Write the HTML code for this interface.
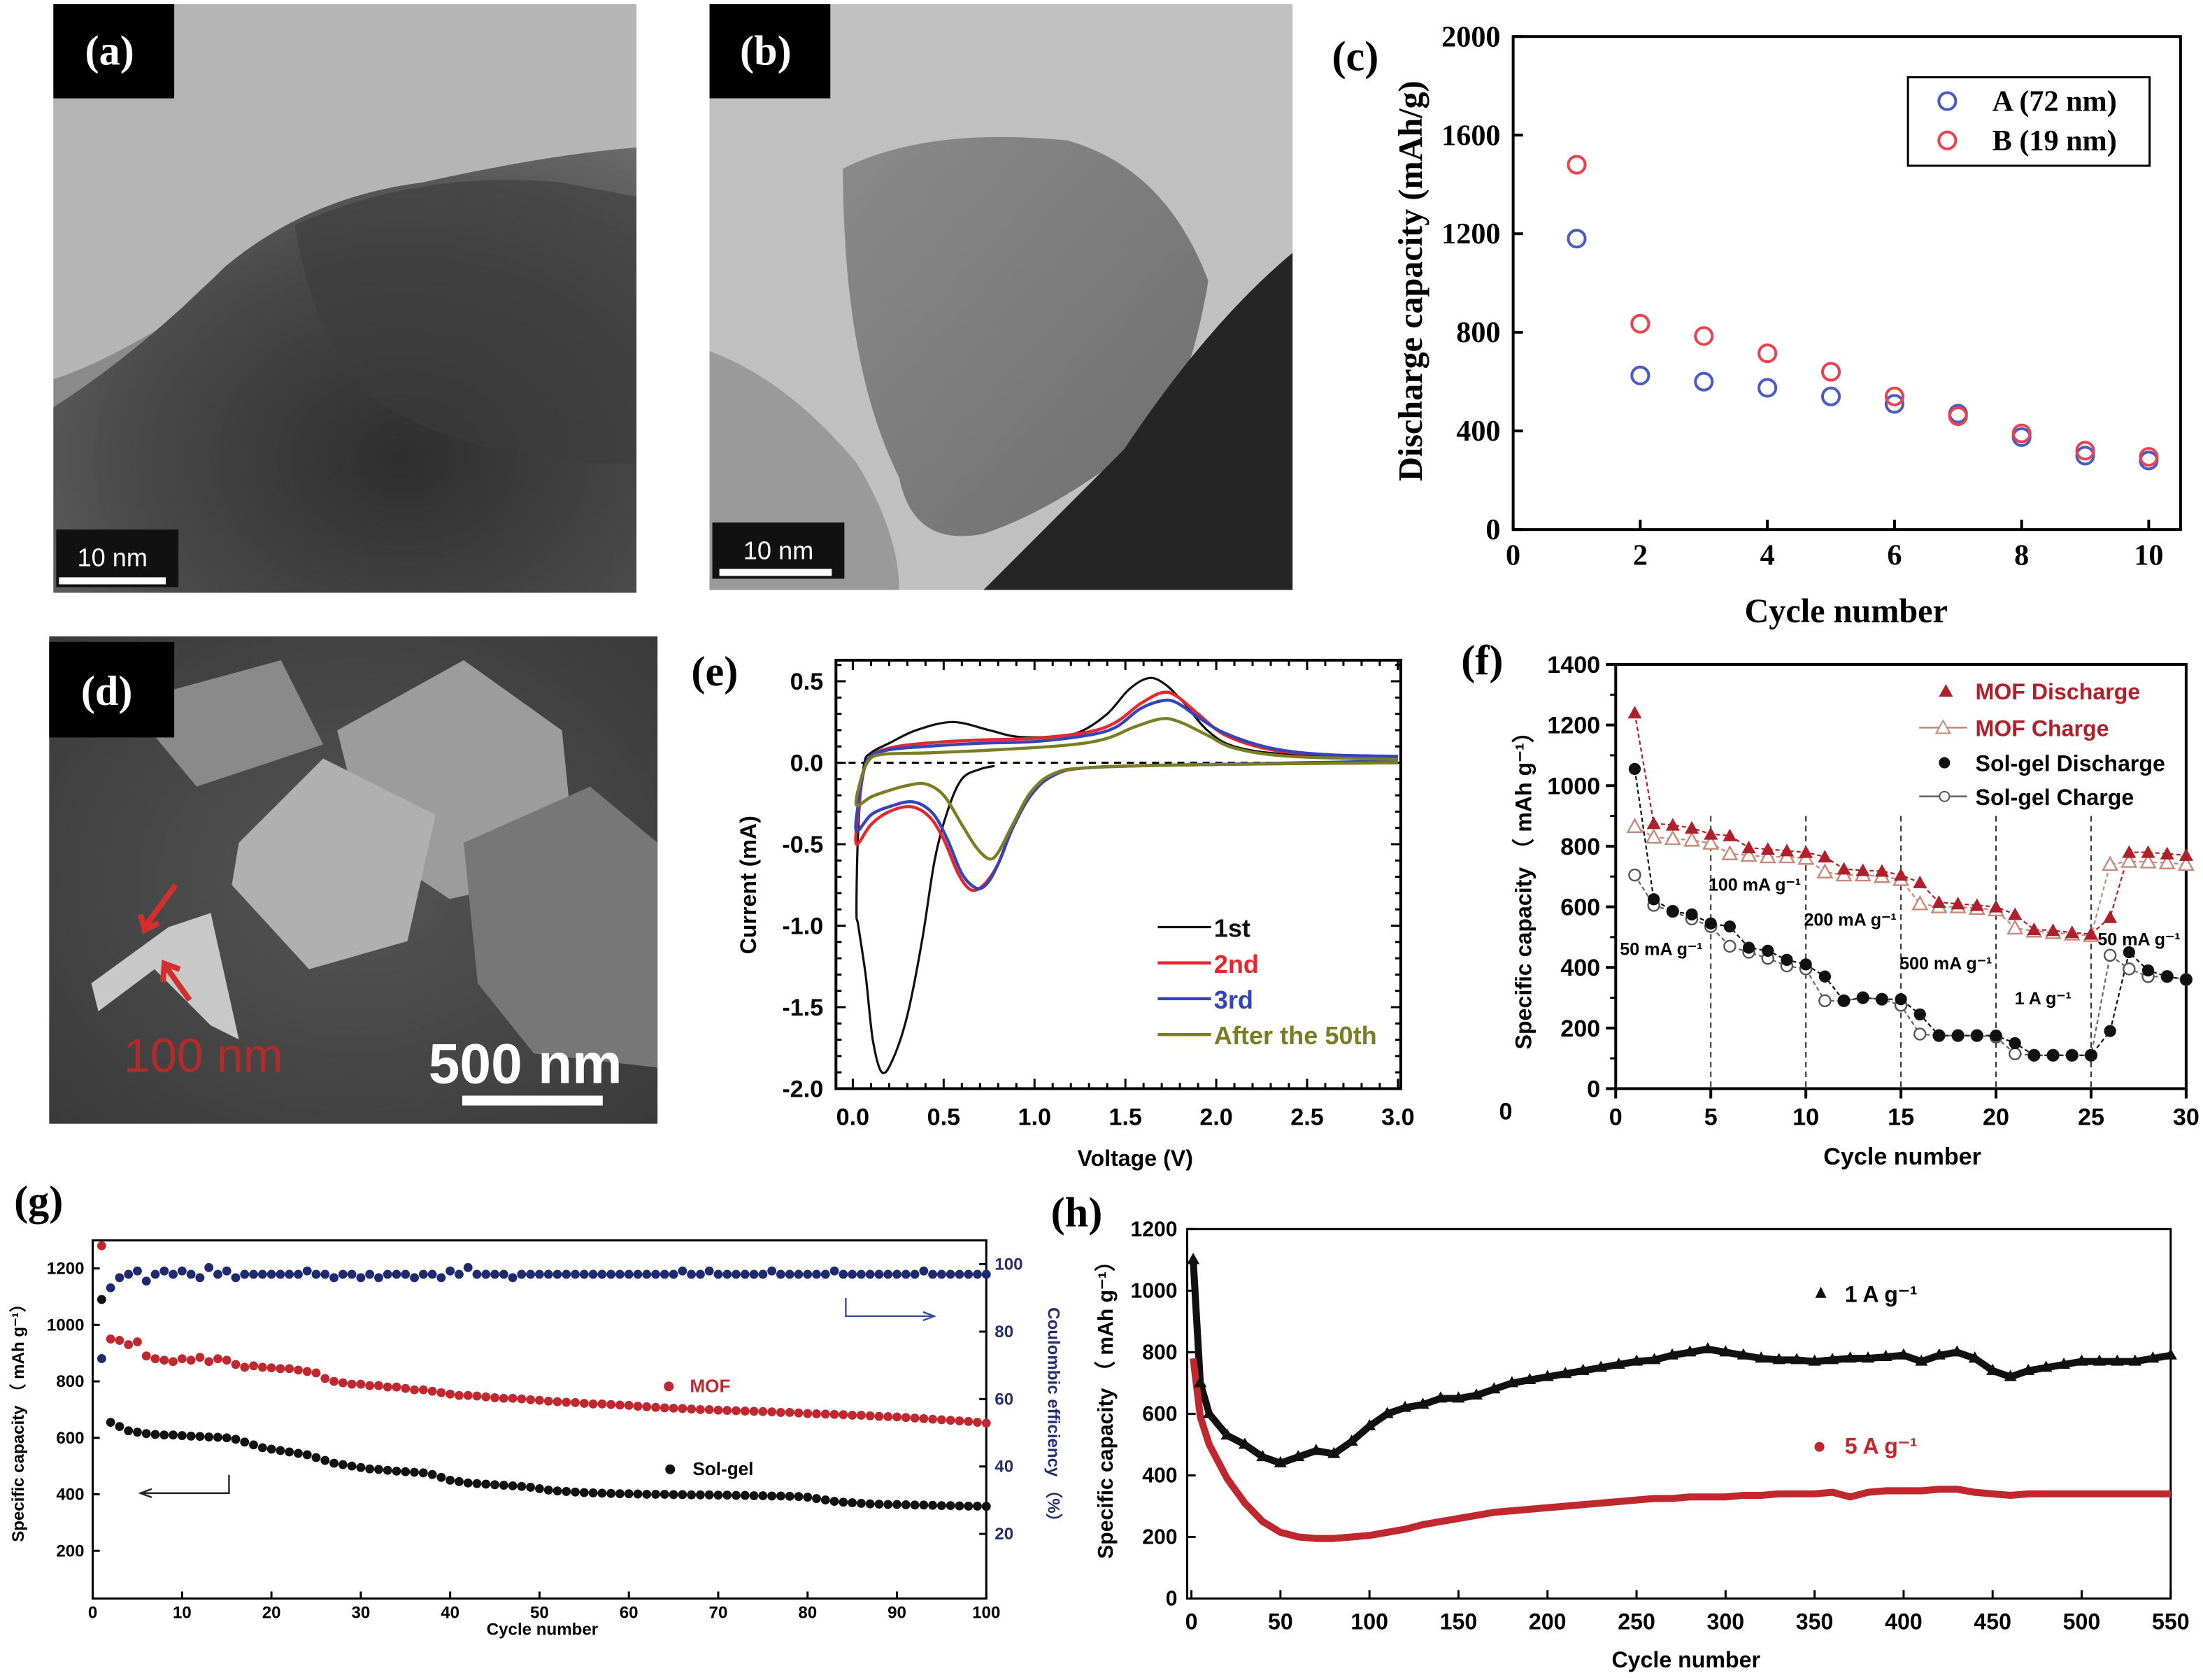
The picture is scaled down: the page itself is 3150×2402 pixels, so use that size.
<!DOCTYPE html>
<html><head><meta charset="utf-8"><style>
html,body{margin:0;padding:0;background:#fff;}
svg{display:block;}
</style></head><body>
<svg id="fig" width="3150" height="2402" viewBox="0 0 1568 1196" preserveAspectRatio="none" xmlns="http://www.w3.org/2000/svg">
<defs>
<radialGradient id="ga" cx="0.6" cy="0.7" r="0.8"><stop offset="0" stop-color="#2e2e2e"/><stop offset="0.6" stop-color="#4a4a4a"/><stop offset="1" stop-color="#6a6a6a"/></radialGradient>
<linearGradient id="gb" x1="0" y1="0" x2="1" y2="1"><stop offset="0" stop-color="#8a8a8a"/><stop offset="1" stop-color="#6e6e6e"/></linearGradient>
<radialGradient id="gd" cx="0.5" cy="0.5" r="0.7"><stop offset="0" stop-color="#555"/><stop offset="1" stop-color="#3a3a3a"/></radialGradient>
</defs>

<g>
<rect x="38" y="3" width="415" height="419" fill="#8a8a8a"/>
<path d="M38 3 H453 V110 Q330 120 260 140 Q170 170 120 230 Q70 260 38 270 Z" fill="#b5b5b5"/>
<path d="M38 290 Q100 250 160 190 Q220 140 300 130 Q390 110 453 105 V422 H38 Z" fill="url(#ga)"/>
<path d="M210 160 Q300 120 400 130 L453 140 V330 Q330 330 260 280 Q220 230 210 160Z" fill="#3c3c3c" opacity="0.6"/>
<rect x="38" y="3" width="86" height="67" fill="#000"/>
<text x="78" y="46" fill="#fff" font-size="30" font-family="Liberation Serif, serif" font-weight="bold" text-anchor="middle">(a)</text>
<rect x="40" y="377" width="87" height="41" fill="#111"/>
<text x="80" y="403" fill="#fff" font-size="18" font-family="Liberation Sans, sans-serif" text-anchor="middle">10 nm</text>
<rect x="42" y="411" width="76" height="5" fill="#fff"/>
</g>

<g>
<rect x="505" y="3" width="415" height="417" fill="#c0c0c0"/>
<path d="M505 250 Q560 270 610 330 Q640 380 640 420 H505Z" fill="#9a9a9a"/>
<path d="M600 120 Q660 90 760 100 Q830 120 860 200 Q850 260 830 300 Q760 360 700 380 Q650 390 640 340 Q600 260 600 120Z" fill="url(#gb)"/>
<path d="M920 180 Q860 230 800 320 Q740 380 700 420 H920Z" fill="#252525"/>
<rect x="505" y="3" width="86" height="67" fill="#000"/>
<text x="545" y="46" fill="#fff" font-size="30" font-family="Liberation Serif, serif" font-weight="bold" text-anchor="middle">(b)</text>
<rect x="507" y="372" width="94" height="40" fill="#111"/>
<text x="554" y="398" fill="#fff" font-size="18" font-family="Liberation Sans, sans-serif" text-anchor="middle">10 nm</text>
<rect x="512" y="405" width="80" height="5" fill="#fff"/>
</g>

<g>
<rect x="35" y="453" width="433" height="347" fill="url(#gd)"/>
<path d="M90 500 L200 470 L230 530 L140 560Z" fill="#8a8a8a"/>
<path d="M240 520 L330 470 L400 520 L410 620 L320 640 L260 600Z" fill="#9c9c9c"/>
<path d="M170 600 L230 540 L310 580 L290 670 L220 690 L165 630Z" fill="#b0b0b0"/>
<path d="M330 600 L420 560 L468 600 L468 760 L380 750 L340 700Z" fill="#777"/>
<path d="M65 700 L120 660 L150 650 L170 740 L150 730 L110 690 L70 720Z" fill="#c8c8c8"/>
<rect x="35" y="457" width="89" height="68" fill="#000"/>
<text x="76" y="502" fill="#fff" font-size="30" font-family="Liberation Serif, serif" font-weight="bold" text-anchor="middle">(d)</text>
<text x="88" y="763" fill="#c62828" font-size="34" font-family="Liberation Sans, sans-serif" opacity="0.85">100 nm</text>
<text x="305" y="771" fill="#fff" font-size="40" font-family="Liberation Sans, sans-serif" font-weight="bold">500 nm</text>
<rect x="329" y="780" width="100" height="7" fill="#fff"/>
<path d="M125 630 L103 660 M100 651 L103 662 L113 657" stroke="#d32f2f" stroke-width="4" fill="none"/>
<path d="M135 712 L118 688 M116 699 L117 686 L128 690" stroke="#d32f2f" stroke-width="4" fill="none"/>
</g>

<g id="plots"></g>
</svg>

<script>
const cCycles = [1,2,3,4,5,6,7,8,9,10];
const cA = [1180,625,600,575,540,510,470,375,300,280];
const cB = [1480,835,785,715,640,540,460,390,320,295];
const cXTicks = [0,2,4,6,8,10];
const cYTicks = [0,400,800,1200,1600,2000];

const e1st = [[0.78,-0.02],[0.7,-0.04],[0.6,-0.1],[0.52,-0.3],[0.45,-0.6],[0.38,-1.1],[0.3,-1.55],[0.22,-1.82],[0.16,-1.9],[0.11,-1.7],[0.07,-1.3],[0.03,-1.0],[0.02,-0.9],[0.03,-0.4],[0.06,-0.02],[0.1,0.06],[0.2,0.12],[0.35,0.2],[0.55,0.25],[0.75,0.2],[0.9,0.16],[1.1,0.16],[1.25,0.19],[1.4,0.3],[1.52,0.45],[1.63,0.52],[1.72,0.48],[1.82,0.37],[1.95,0.2],[2.1,0.1],[2.4,0.05],[3.0,0.02]];
const e2nd = [[3.0,0.0],[2.0,-0.01],[1.3,-0.03],[1.1,-0.08],[0.98,-0.2],[0.88,-0.4],[0.8,-0.62],[0.72,-0.75],[0.65,-0.78],[0.58,-0.68],[0.5,-0.47],[0.42,-0.33],[0.32,-0.27],[0.2,-0.3],[0.1,-0.38],[0.02,-0.5],[0.03,-0.3],[0.06,-0.05],[0.1,0.04],[0.2,0.09],[0.4,0.12],[0.7,0.14],[1.0,0.15],[1.3,0.19],[1.45,0.25],[1.58,0.36],[1.7,0.43],[1.78,0.41],[1.9,0.3],[2.05,0.17],[2.3,0.08],[2.6,0.05],[3.0,0.03]];
const e3rd = [[3.0,0.01],[2.0,-0.01],[1.3,-0.03],[1.1,-0.08],[0.98,-0.2],[0.88,-0.4],[0.8,-0.62],[0.74,-0.74],[0.68,-0.77],[0.6,-0.68],[0.52,-0.47],[0.44,-0.31],[0.33,-0.24],[0.2,-0.27],[0.1,-0.32],[0.02,-0.42],[0.03,-0.25],[0.06,-0.05],[0.1,0.04],[0.2,0.08],[0.4,0.1],[0.7,0.12],[1.0,0.13],[1.3,0.17],[1.45,0.22],[1.58,0.33],[1.7,0.38],[1.78,0.37],[1.9,0.28],[2.05,0.18],[2.3,0.09],[2.6,0.05],[3.0,0.04]];
const e50th = [[3.0,0.0],[2.0,-0.01],[1.3,-0.03],[1.1,-0.07],[0.98,-0.18],[0.88,-0.38],[0.8,-0.55],[0.75,-0.59],[0.68,-0.52],[0.6,-0.38],[0.5,-0.2],[0.4,-0.13],[0.3,-0.14],[0.2,-0.17],[0.1,-0.21],[0.02,-0.26],[0.04,-0.12],[0.08,0.0],[0.15,0.05],[0.4,0.06],[0.8,0.08],[1.2,0.11],[1.4,0.15],[1.55,0.22],[1.7,0.27],[1.8,0.25],[1.95,0.17],[2.1,0.09],[2.4,0.04],[3.0,0.02]];
const eXTicks = [0,0.5,1,1.5,2,2.5,3];
const eYTicks = [0.5,0,-0.5,-1,-1.5,-2];

const fCycles = [1,2,3,4,5,6,7,8,9,10,11,12,13,14,15,16,17,18,19,20,21,22,23,24,25,26,27,28,29,30];
const fMofDis = [1240,875,870,860,840,835,795,790,785,780,765,725,720,718,705,680,615,610,605,600,575,525,522,515,510,565,780,780,775,770];
const fMofCh  = [865,830,825,820,810,775,770,765,765,760,715,705,705,700,690,610,600,600,595,590,530,520,515,510,505,740,750,748,745,740];
const fSolDis = [1055,625,585,575,545,535,465,455,425,410,370,290,300,295,295,245,175,175,175,175,150,110,110,110,110,190,450,390,370,360];
const fSolCh  = [705,605,585,560,535,470,450,430,405,395,290,290,300,295,275,180,175,175,175,170,115,110,110,110,110,440,395,370,370,360];
const fXTicks = [0,5,10,15,20,25,30];
const fYTicks = [0,200,400,600,800,1000,1200,1400];
const fDividers = [5,10,15,20,25];

const gMof = [1280,950,945,930,940,890,880,875,870,880,875,885,870,880,875,860,850,855,850,848,845,845,840,835,830,810,800,795,790,790,785,785,780,780,775,770,770,765,760,755,750,750,748,745,742,740,740,738,735,733,730,728,726,725,722,720,720,718,716,715,712,710,708,706,705,704,702,700,700,698,697,696,695,694,693,692,690,690,688,686,685,684,683,682,680,680,678,676,675,674,672,670,668,666,664,662,660,658,655,652];
const gSol = [1090,655,640,625,620,615,612,610,610,608,606,605,603,602,600,595,585,575,565,560,555,550,545,540,530,520,510,505,500,495,490,488,485,482,480,478,476,470,460,450,445,440,438,436,434,432,430,428,425,420,415,412,410,408,406,405,404,403,402,402,401,400,400,400,399,399,398,398,398,397,397,396,396,395,395,394,394,393,392,390,385,380,375,372,370,368,366,365,364,364,363,362,362,361,360,360,359,358,358,357];
const gCE = [72,93,96,97,98,95,97,98,97,98,97,96,99,97,98,96,97,97,97,97,97,97,97,98,97,97,96,97,97,96,97,96,97,97,97,96,97,97,96,98,97,99,97,97,97,97,96,97,97,97,97,97,97,97,97,97,97,97,97,97,97,97,97,97,97,98,97,97,98,97,97,97,97,97,97,98,97,97,97,97,97,97,98,97,97,97,97,97,97,97,97,97,98,97,97,97,97,97,97,97];
const gXTicks = [0,10,20,30,40,50,60,70,80,90,100];
const gYTicks = [200,400,600,800,1000,1200];
const gY2Ticks = [20,40,60,80,100];

const hCycles = [1,5,10,20,30,40,50,60,70,80,90,100,110,120,130,140,150,160,170,180,190,200,210,220,230,240,250,260,270,280,290,300,310,320,330,340,350,360,370,380,390,400,410,420,430,440,450,460,470,480,490,500,510,520,530,540,550];
const h1A = [1100,700,600,530,500,460,440,460,480,470,510,560,600,620,630,650,650,660,680,700,710,720,730,740,750,760,770,775,790,800,810,800,790,780,775,775,770,775,780,780,785,790,770,790,800,780,740,720,740,750,760,770,770,770,770,780,790];
const h5A = [780,590,500,390,310,250,215,200,195,195,200,205,215,225,240,250,260,270,280,285,290,295,300,305,310,315,320,325,325,330,330,330,335,335,340,340,340,345,330,345,350,350,350,355,355,345,340,335,340,340,340,340,340,340,340,340,340];
const hXTicks = [0,50,100,150,200,250,300,350,400,450,500,550];
const hYTicks = [0,200,400,600,800,1000,1200];

const NS = 'http://www.w3.org/2000/svg';
const root = document.getElementById('plots');
function mk(tag, attrs, parent, text){
  const el = document.createElementNS(NS, tag);
  for (const k in attrs) el.setAttribute(k, attrs[k]);
  if (text !== undefined) el.textContent = text;
  (parent || root).appendChild(el);
  return el;
}
function scale(d0,d1,r0,r1){ return v => r0 + (v-d0)*(r1-r0)/(d1-d0); }
function frame(g, x0,y0,x1,y1, sw){ mk('rect',{x:x0,y:y0,width:x1-x0,height:y1-y0,fill:'none',stroke:'#000','stroke-width':sw||2},g); }
function smooth(pts){
  let d = 'M'+pts[0][0].toFixed(1)+' '+pts[0][1].toFixed(1);
  for (let i=0;i<pts.length-1;i++){
    const p0=pts[Math.max(0,i-1)], p1=pts[i], p2=pts[i+1], p3=pts[Math.min(pts.length-1,i+2)];
    const c1x=p1[0]+(p2[0]-p0[0])/6, c1y=p1[1]+(p2[1]-p0[1])/6;
    const c2x=p2[0]-(p3[0]-p1[0])/6, c2y=p2[1]-(p3[1]-p1[1])/6;
    d += ` C${c1x.toFixed(1)} ${c1y.toFixed(1)} ${c2x.toFixed(1)} ${c2y.toFixed(1)} ${p2[0].toFixed(1)} ${p2[1].toFixed(1)}`;
  }
  return d;
}

// ===== panel c =====
(function(){
  const g = mk('g',{});
  
  
  const X = scale(0,10.5,1077,1552), Y = scale(0,2000,377,26);
  frame(g,1077,26,1552,377,2);
  const ser = 'Liberation Serif, serif';
  cXTicks.forEach(t=>{
    mk('line',{x1:X(t),y1:377,x2:X(t),y2:370,stroke:'#000','stroke-width':2},g);
    const tx = mk('text',{x:X(t),y:402,'font-size':21,'font-family':ser,'font-weight':'bold','text-anchor':'middle'},g,String(t));
    
    
  });
  cYTicks.forEach(t=>{
    mk('line',{x1:1077,y1:Y(t),x2:1084,y2:Y(t),stroke:'#000','stroke-width':2},g);
    mk('text',{x:1068,y:Y(t)+7,'font-size':21,'font-family':ser,'font-weight':'bold','text-anchor':'end'},g,String(t));
  });
  const xt = mk('text',{x:1314,y:443,'font-size':24,'font-family':ser,'font-weight':'bold','text-anchor':'middle'},g,'Cycle number');
  
  
  const yt = mk('text',{x:0,y:0,'font-size':24,'font-family':ser,'font-weight':'bold','text-anchor':'middle',transform:'translate(1012,200) rotate(-90)'},g,'Discharge capacity (mAh/g)');
  
  
  const lab = mk('text',{x:948,y:50,'font-size':30,'font-family':ser,'font-weight':'bold'},g,'(c)');
  
  
  cCycles.forEach((c,i)=>{
    const p = mk('circle',{cx:X(c),cy:Y(cA[i]),r:6,fill:'none',stroke:'#4a5bc4','stroke-width':2},g);
    
    
    const q = mk('circle',{cx:X(c),cy:Y(cB[i]),r:6,fill:'none',stroke:'#e8434f','stroke-width':2},g);
    
    
  });
  const lg = mk('g',{},g);
  
  
  mk('rect',{x:1358,y:55,width:172,height:63,fill:'#fff',stroke:'#000','stroke-width':1.5},lg);
  mk('circle',{cx:1386,cy:72,r:6,fill:'none',stroke:'#4a5bc4','stroke-width':2},lg);
  mk('circle',{cx:1386,cy:100,r:6,fill:'none',stroke:'#e8434f','stroke-width':2},lg);
  mk('text',{x:1418,y:79,'font-size':21,'font-family':ser,'font-weight':'bold'},lg,'A (72 nm)');
  mk('text',{x:1418,y:107,'font-size':21,'font-family':ser,'font-weight':'bold'},lg,'B (19 nm)');
})();

// ===== panel e =====
(function(){
  const g = mk('g',{});
  
  
  const X = scale(0,3,607,995), Y = scale(0,-2,543,775);
  const x0=595,x1=997,y0=470,y1=775;
  frame(g,x0,y0,x1,y1,2);
  const san='Liberation Sans, sans-serif';
  for (let v=0; v<=3.0001; v+=0.1){
    const major = Math.abs(v*2-Math.round(v*2))<1e-6;
    mk('line',{x1:X(v),y1:y1,x2:X(v),y2:y1-(major?7:4),stroke:'#000','stroke-width':1.5},g);
    mk('line',{x1:X(v),y1:y0,x2:X(v),y2:y0+(major?7:4),stroke:'#000','stroke-width':1.5},g);
  }
  for (let v=0.6; v>=-2.0001; v-=0.1){
    const major = Math.abs(v*2-Math.round(v*2))<1e-6;
    mk('line',{x1:x0,y1:Y(v),x2:x0+(major?7:4),y2:Y(v),stroke:'#000','stroke-width':1.5},g);
    mk('line',{x1:x1,y1:Y(v),x2:x1-(major?7:4),y2:Y(v),stroke:'#000','stroke-width':1.5},g);
  }
  eXTicks.forEach(t=>mk('text',{x:X(t),y:801,'font-size':17,'font-family':san,'font-weight':'bold','text-anchor':'middle'},g,t.toFixed(1)));
  eYTicks.forEach(t=>mk('text',{x:586,y:Y(t)+6,'font-size':17,'font-family':san,'font-weight':'bold','text-anchor':'end'},g,t.toFixed(1)));
  mk('text',{x:808,y:830,'font-size':16,'font-family':san,'font-weight':'bold','text-anchor':'middle'},g,'Voltage (V)');
  mk('text',{x:0,y:0,'font-size':16,'font-family':san,'font-weight':'bold','text-anchor':'middle',transform:'translate(538,630) rotate(-90)'},g,'Current (mA)');
  mk('text',{x:492,y:488,'font-size':30,'font-family':'Liberation Serif, serif','font-weight':'bold'},g,'(e)');
  mk('line',{x1:x0,y1:Y(0),x2:x1,y2:Y(0),stroke:'#000','stroke-width':1.5,'stroke-dasharray':'5,4'},g);
  const series = [[e1st,'#111',1.6,'1st'],[e2nd,'#e8262e',2.2,'2nd'],[e3rd,'#3345b8',2.2,'3rd'],[e50th,'#7b7d22',2.2,'After the 50th']];
  series.forEach((s,i)=>{
    const pts = s[0].map(p=>[X(p[0]),Y(p[1])]);
    const pl = mk('path',{d:smooth(pts),fill:'none',stroke:s[1],'stroke-width':s[2],'stroke-linejoin':'round'},g);
    
    
    const ly = 660+i*25.5;
    mk('line',{x1:824,y1:ly,x2:862,y2:ly,stroke:s[1],'stroke-width':s[2]},g);
    const lt = mk('text',{x:864,y:ly+7,'font-size':18,'font-family':san,'font-weight':'bold',fill:i===0?'#111':s[1]},g,s[3]);
    
    
  });
})();

// ===== panel f =====
(function(){
  const g = mk('g',{});
  
  
  const X = scale(0,30,1150,1556), Y = scale(0,1400,775,473);
  frame(g,1150,473,1556,775,2);
  const san='Liberation Sans, sans-serif';
  fXTicks.forEach(t=>{
    mk('line',{x1:X(t),y1:775,x2:X(t),y2:782,stroke:'#000','stroke-width':2},g);
    mk('text',{x:X(t),y:801,'font-size':17,'font-family':san,'font-weight':'bold','text-anchor':'middle'},g,String(t));
  });
  fYTicks.forEach(t=>{
    mk('line',{x1:1143,y1:Y(t),x2:1150,y2:Y(t),stroke:'#000','stroke-width':2},g);
    if (t<1400) mk('line',{x1:1146,y1:Y(t+100),x2:1150,y2:Y(t+100),stroke:'#000','stroke-width':1.5},g);
    mk('text',{x:1139,y:Y(t)+6,'font-size':17,'font-family':san,'font-weight':'bold','text-anchor':'end'},g,String(t));
  });
  mk('text',{x:1067,y:797,'font-size':17,'font-family':san,'font-weight':'bold'},g,'0');
  mk('text',{x:1354,y:829,'font-size':17,'font-family':san,'font-weight':'bold','text-anchor':'middle'},g,'Cycle number');
  mk('text',{x:0,y:0,'font-size':16,'font-family':san,'font-weight':'bold','text-anchor':'middle',transform:'translate(1090,630) rotate(-90)'},g,'Specific capacity （ mAh g⁻¹）');
  mk('text',{x:1040,y:480,'font-size':30,'font-family':'Liberation Serif, serif','font-weight':'bold'},g,'(f)');
  fDividers.forEach(d=>mk('line',{x1:X(d),y1:Y(900),x2:X(d),y2:775,stroke:'#333','stroke-width':1,'stroke-dasharray':'4,3'},g));
  [['50 mA g⁻¹',1153,680],['100 mA g⁻¹',1216,634],['200 mA g⁻¹',1284,659],['500 mA g⁻¹',1352,690],['1 A g⁻¹',1434,715],['50 mA g⁻¹',1493,673]].forEach(a=>
    mk('text',{x:a[1],y:a[2],'font-size':12.5,'font-family':san,'font-weight':'bold'},g,a[0]));
  function line(vals,col){ mk('polyline',{points:fCycles.map((c,i)=>X(c)+','+Y(vals[i])).join(' '),fill:'none',stroke:col,'stroke-width':1.1,'stroke-dasharray':'3,2'},g); }
  line(fMofCh,'#c78a7a'); line(fMofDis,'#b0202a'); line(fSolCh,'#666'); line(fSolDis,'#111');
  fCycles.forEach((c,i)=>{
    let x=X(c), y;
    y=Y(fMofCh[i]);
    const a = mk('path',{d:`M${x} ${y-5} L${x+5} ${y+4} L${x-5} ${y+4}Z`,fill:'#fff',stroke:'#c78a7a','stroke-width':1.2},g);
    
    
    y=Y(fMofDis[i]);
    const b = mk('path',{d:`M${x} ${y-5} L${x+5} ${y+4} L${x-5} ${y+4}Z`,fill:'#b0202a'},g);
    
    
    const cc = mk('circle',{cx:x,cy:Y(fSolCh[i]),r:4,fill:'#fff',stroke:'#555','stroke-width':1.2},g);
    
    
    const d = mk('circle',{cx:x,cy:Y(fSolDis[i]),r:4.3,fill:'#111'},g);
    
    
  });
  const lg = mk('g',{},g);
  
  
  mk('path',{d:'M1385 487 L1390 496 L1380 496Z',fill:'#b0202a'},lg);
  mk('text',{x:1406,y:498,'font-size':16,'font-family':san,'font-weight':'bold',fill:'#b0202a'},lg,'MOF Discharge');
  mk('line',{x1:1366,y1:518,x2:1400,y2:518,stroke:'#c78a7a','stroke-width':1.3},lg);
  mk('path',{d:'M1383 513 L1388 522 L1378 522Z',fill:'#fff',stroke:'#c78a7a'},lg);
  mk('text',{x:1406,y:524,'font-size':16,'font-family':san,'font-weight':'bold',fill:'#b0202a'},lg,'MOF Charge');
  mk('circle',{cx:1384,cy:543,r:4,fill:'#111'},lg);
  mk('text',{x:1406,y:549,'font-size':16,'font-family':san,'font-weight':'bold'},lg,'Sol-gel Discharge');
  mk('line',{x1:1366,y1:567,x2:1400,y2:567,stroke:'#666','stroke-width':1.3},lg);
  mk('circle',{cx:1384,cy:567,r:3.5,fill:'#fff',stroke:'#555'},lg);
  mk('text',{x:1406,y:573,'font-size':16,'font-family':san,'font-weight':'bold'},lg,'Sol-gel Charge');
})();

// ===== panel g =====
(function(){
  const g = mk('g',{});
  
  
  const X = scale(0,100,66,702), Y = scale(200,1200,1104,903), Y2 = scale(20,100,1092,900);
  frame(g,66,883,702,1138,1.5);
  const san='Liberation Sans, sans-serif';
  gXTicks.forEach(t=>{
    mk('line',{x1:X(t),y1:1138,x2:X(t),y2:1133,stroke:'#000','stroke-width':1.5},g);
    mk('text',{x:X(t),y:1152,'font-size':12,'font-family':san,'font-weight':'bold','text-anchor':'middle'},g,String(t));
  });
  gYTicks.forEach(t=>{
    mk('line',{x1:66,y1:Y(t),x2:71,y2:Y(t),stroke:'#000','stroke-width':1.5},g);
    mk('text',{x:60,y:Y(t)+4,'font-size':12,'font-family':san,'font-weight':'bold','text-anchor':'end'},g,String(t));
  });
  gY2Ticks.forEach(t=>{
    mk('line',{x1:702,y1:Y2(t),x2:697,y2:Y2(t),stroke:'#000','stroke-width':1.5},g);
    mk('text',{x:708,y:Y2(t)+4,'font-size':12,'font-family':san,'font-weight':'bold',fill:'#27306e'},g,String(t));
  });
  mk('text',{x:386,y:1164,'font-size':12,'font-family':san,'font-weight':'bold','text-anchor':'middle'},g,'Cycle number');
  mk('text',{x:0,y:0,'font-size':12,'font-family':san,'font-weight':'bold','text-anchor':'middle',transform:'translate(17,1010) rotate(-90)'},g,'Specific capacity （ mAh g⁻¹）');
  mk('text',{x:0,y:0,'font-size':12,'font-family':san,'font-weight':'bold','text-anchor':'middle',fill:'#27306e',transform:'translate(746,1010) rotate(90)'},g,'Coulombic efficiency （%）');
  mk('text',{x:10,y:865,'font-size':30,'font-family':'Liberation Serif, serif','font-weight':'bold'},g,'(g)');
  gMof.forEach((v,i)=>{
    const p = mk('circle',{cx:X(i+1),cy:Y(v),r:3.2,fill:'#c0282f'},g);
    
    
  });
  gSol.forEach((v,i)=>{
    const p = mk('circle',{cx:X(i+1),cy:Y(v),r:3.2,fill:'#111'},g);
    
    
  });
  gCE.forEach((v,i)=>{
    const p = mk('circle',{cx:X(i+1),cy:Y2(v),r:3.2,fill:'#1f2a6e'},g);
    
    
  });
  mk('circle',{cx:476,cy:987,r:3.5,fill:'#c0282f'},g);
  mk('text',{x:491,y:991,'font-size':13,'font-family':san,'font-weight':'bold',fill:'#c0282f'},g,'MOF');
  mk('circle',{cx:477,cy:1046,r:3.5,fill:'#111'},g);
  mk('text',{x:493,y:1050,'font-size':13,'font-family':san,'font-weight':'bold'},g,'Sol-gel');
  mk('path',{d:'M602 924 V937 H664 M657 934 L665 937 L657 940',fill:'none',stroke:'#3a4ea0','stroke-width':1.2},g);
  mk('path',{d:'M163 1050 V1063 H101 M108 1060 L100 1063 L108 1066',fill:'none',stroke:'#222','stroke-width':1.2},g);
})();

// ===== panel h =====
(function(){
  const g = mk('g',{});
  
  
  const X = scale(0,550,848,1545), Y = scale(0,1200,1138,875);
  frame(g,845,875,1545,1138,1.5);
  const san='Liberation Sans, sans-serif';
  hXTicks.forEach(t=>{
    mk('line',{x1:X(t),y1:1138,x2:X(t),y2:1132,stroke:'#000','stroke-width':1.5},g);
    mk('text',{x:X(t),y:1160,'font-size':16,'font-family':san,'font-weight':'bold','text-anchor':'middle'},g,String(t));
  });
  hYTicks.forEach(t=>{
    mk('line',{x1:845,y1:Y(t),x2:851,y2:Y(t),stroke:'#000','stroke-width':1.5},g);
    mk('text',{x:838,y:Y(t)+5,'font-size':15,'font-family':san,'font-weight':'bold','text-anchor':'end'},g,String(t));
  });
  mk('text',{x:1200,y:1187,'font-size':16,'font-family':san,'font-weight':'bold','text-anchor':'middle'},g,'Cycle number');
  mk('text',{x:0,y:0,'font-size':15,'font-family':san,'font-weight':'bold','text-anchor':'middle',transform:'translate(792,1000) rotate(-90)'},g,'Specific capacity （ mAh g⁻¹）');
  mk('text',{x:748,y:873,'font-size':30,'font-family':'Liberation Serif, serif','font-weight':'bold'},g,'(h)');
  const l1 = mk('polyline',{points:hCycles.map((c,i)=>X(c)+','+Y(h1A[i])).join(' '),fill:'none',stroke:'#111','stroke-width':5,'stroke-linejoin':'round'},g);
  
  
  const l5 = mk('polyline',{points:hCycles.map((c,i)=>X(c)+','+Y(h5A[i])).join(' '),fill:'none',stroke:'#c0282f','stroke-width':5,'stroke-linejoin':'round'},g);
  
  
  hCycles.forEach((c,i)=>{
    const x=X(c), y=Y(h1A[i]);
    const t = mk('path',{d:`M${x} ${y-5} L${x+4.5} ${y+3} L${x-4.5} ${y+3}Z`,fill:'#111'},g);
    
    
  });
  mk('path',{d:'M1296 916 L1300 924 L1292 924Z',fill:'#111'},g);
  mk('text',{x:1313,y:927,'font-size':16,'font-family':san,'font-weight':'bold'},g,'1 A g⁻¹');
  mk('circle',{cx:1295,cy:1030,r:3.5,fill:'#c0282f'},g);
  mk('text',{x:1313,y:1035,'font-size':16,'font-family':san,'font-weight':'bold',fill:'#c0282f'},g,'5 A g⁻¹');
})();
</script>
</body></html>
